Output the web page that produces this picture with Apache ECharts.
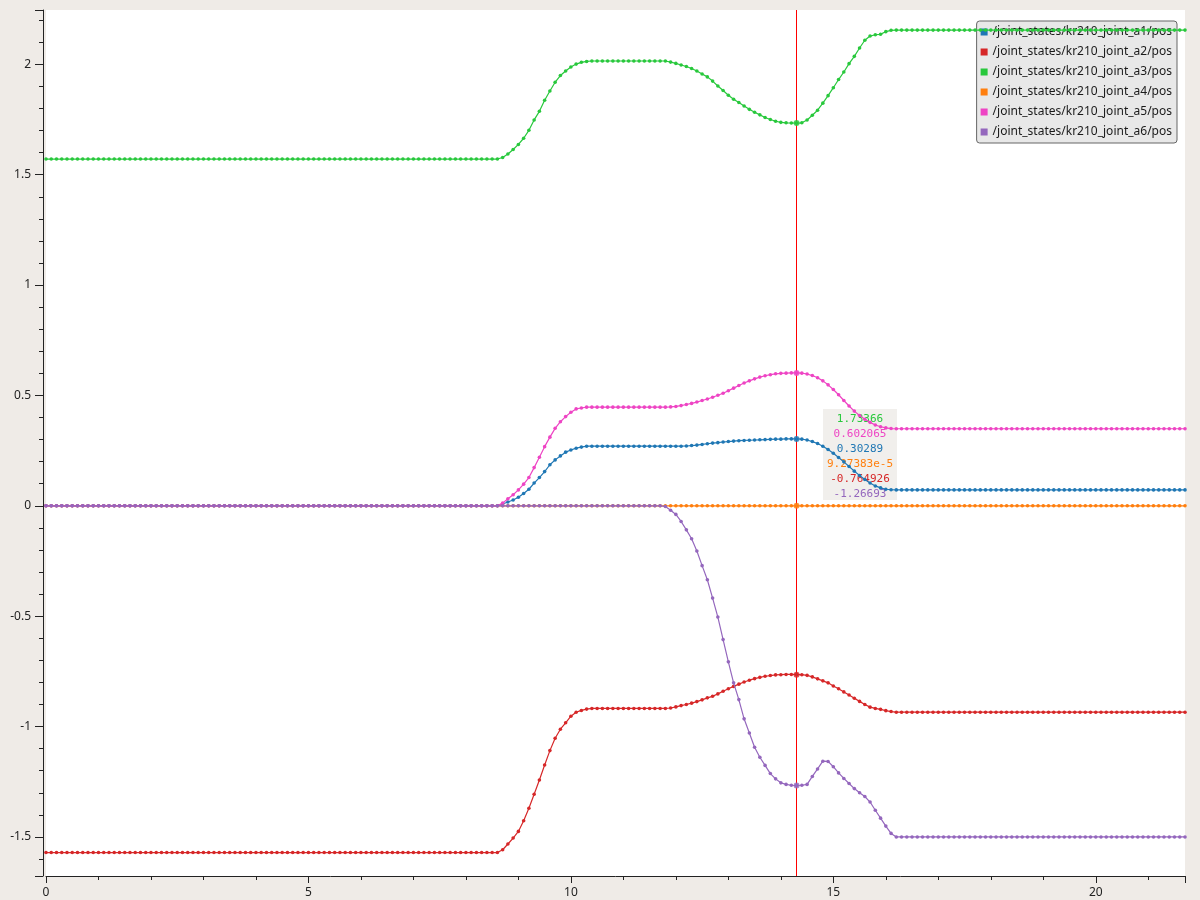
<!DOCTYPE html>
<html>
<head>
<meta charset="utf-8">
<script src="https://cdn.jsdelivr.net/npm/echarts@6/dist/echarts.min.js"></script>
<style>
html,body{margin:0;padding:0;background:#efebe7;}
#chart{width:1200px;height:900px;}
</style>
</head>
<body>
<div id="chart"></div>
<script>
// Sampling: 10 Hz from t = 0 s
const T_START = 0;
const T_STEP = 0.1;

// Series values (one sample per 0.1 s). [value, n] = n identical samples in a row.
const names = [
  '/joint_states/kr210_joint_a1/pos',
  '/joint_states/kr210_joint_a2/pos',
  '/joint_states/kr210_joint_a3/pos',
  '/joint_states/kr210_joint_a4/pos',
  '/joint_states/kr210_joint_a5/pos',
  '/joint_states/kr210_joint_a6/pos'
];
const colors = ['#1f77b4', '#d62728', '#28c83c', '#ff7f0e', '#ee44c4', '#9467bd'];

const a1 = [[0, 87],
  0.008, 0.017, 0.026, 0.039, 0.056, 0.075, 0.103, 0.128, 0.155, 0.186, 0.208, 0.226, 0.243, 0.253, 0.261, 0.266,
  [0.270, 19],
  0.271, 0.273, 0.275, 0.278, 0.281, 0.284, 0.286, 0.289, 0.291, 0.293,
  0.295, 0.296, 0.297, 0.298, 0.299, 0.300, 0.301, 0.302, 0.302, 0.303,
  0.303, 0.30289, 0.302, 0.298, 0.291, 0.282, 0.270, 0.255, 0.238, 0.219,
  0.199, 0.178, 0.157, 0.137, 0.119, 0.103, 0.090, 0.081, 0.075, 0.073,
  [0.072, 56]];

const a2 = [[-1.5708, 87],
  -1.558, -1.532, -1.505, -1.475, -1.427, -1.370, -1.307, -1.242, -1.174, -1.109, -1.053, -1.012, -0.983, -0.953, -0.935, -0.927, -0.921,
  [-0.918, 15],
  -0.916, -0.911, -0.905, -0.900, -0.894, -0.887, -0.879, -0.870, -0.863, -0.852,
  -0.840, -0.829, -0.818, -0.808, -0.798, -0.790, -0.783, -0.777, -0.772, -0.769,
  -0.766, -0.765, -0.764, -0.764, -0.764926, -0.765, -0.768, -0.775, -0.784, -0.793,
  -0.802, -0.816, -0.829, -0.843, -0.857, -0.872, -0.886, -0.900, -0.912, -0.918,
  -0.922, -0.928, -0.932,
  [-0.935, 56]];

const a3 = [[1.5708, 87],
  1.578, 1.594, 1.614, 1.637, 1.665, 1.701, 1.748, 1.787, 1.837, 1.879, 1.919, 1.949, 1.970, 1.988, 2.001, 2.009, 2.013,
  [2.015, 15],
  2.010, 2.004, 1.997, 1.990, 1.981, 1.970, 1.956, 1.943, 1.924, 1.902,
  1.881, 1.860, 1.842, 1.827, 1.811, 1.796, 1.783, 1.771, 1.759, 1.750,
  1.742, 1.737, 1.735, 1.734, 1.73366, 1.735, 1.748, 1.769, 1.792, 1.824,
  1.858, 1.894, 1.931, 1.965, 2.003, 2.036, 2.074, 2.109, 2.128, 2.134,
  2.136, 2.148, 2.154,
  [2.155, 56]];

const a4 = [[0.0000927383, 218]];

const a5 = [[0, 87],
  0.012, 0.032, 0.050, 0.072, 0.098, 0.128, 0.173, 0.220, 0.268, 0.311, 0.351, 0.381, 0.404, 0.424, 0.439, 0.443,
  [0.447, 16],
  0.448, 0.450, 0.454, 0.459, 0.464, 0.470, 0.477, 0.484, 0.492, 0.501,
  0.510, 0.521, 0.533, 0.545, 0.556, 0.566, 0.575, 0.583, 0.589, 0.594,
  0.598, 0.600, 0.601, 0.602, 0.602065, 0.601, 0.597, 0.590, 0.580, 0.566,
  0.548, 0.527, 0.503, 0.477, 0.452, 0.429, 0.409, 0.392, 0.378, 0.366,
  0.358, 0.353, 0.350,
  [0.349, 56]];

const a6 = [[0, 118],
  -0.003, -0.020, -0.039, -0.071, -0.109, -0.149, -0.205, -0.271, -0.335, -0.418,
  -0.504, -0.606, -0.707, -0.802, -0.878, -0.965, -1.029, -1.094, -1.139, -1.176,
  -1.213, -1.237, -1.255, -1.262, -1.266, -1.26693, -1.266, -1.262, -1.226, -1.192,
  -1.157, -1.158, -1.182, -1.210, -1.235, -1.258, -1.281, -1.300, -1.317, -1.342,
  -1.379, -1.415, -1.451, -1.484,
  [-1.5, 56]];

// cursor time
const cursorT = 14.3;

// axis ranges / ticks
const xMin = 0, xMax = 21.7, xMajor = 5;
const yMin = -1.677, yMax = 2.246;

function expand(spec) {
  const out = [];
  for (const s of spec) {
    if (Array.isArray(s)) { for (let k = 0; k < s[1]; k++) out.push(s[0]); }
    else out.push(s);
  }
  return out;
}
const raw = [a1, a2, a3, a4, a5, a6].map(expand);
function tAt(i) { return Math.round((T_START + i * T_STEP) * 1000) / 1000; }
const seriesData = raw.map(arr => arr.map((v, i) => [tAt(i), v]));
const cursorIdx = Math.round((cursorT - T_START) / T_STEP);

function fmt(v) {
  if (v !== 0 && Math.abs(v) < 1e-4) return v.toExponential(5);
  return String(parseFloat(v.toPrecision(6)));
}

const chart = echarts.init(document.getElementById('chart'), null, {renderer: 'canvas'});

const series = names.map((n, k) => ({
  name: n,
  type: 'line',
  data: seriesData[k],
  showSymbol: true,
  symbol: 'circle',
  symbolSize: 3.6,
  color: colors[k],
  lineStyle: {width: 1.2, color: colors[k]},
  itemStyle: {color: colors[k]},
  animation: false,
  silent: true,
  z: 2 + k,
  markLine: k === 5 ? {
    silent: true, symbol: ['none', 'none'], label: {show: false},
    lineStyle: {color: '#ff0000', width: 1, type: 'solid', opacity: 1},
    data: [{xAxis: cursorT, lineStyle: {color: '#ff0000', width: 1}}], animation: false, z: 1
  } : undefined
}));
// highlighted points at the cursor
series.push({
  type: 'scatter', name: 'cursor', silent: true, animation: false, z: 10,
  symbolSize: 6,
  data: raw.map((arr, k) => ({value: [tAt(cursorIdx), arr[cursorIdx]], itemStyle: {color: colors[k]}}))
});

// tooltip box text, sorted by value descending
const rows = raw.map((arr, k) => ({v: arr[cursorIdx], c: colors[k]})).sort((a, b) => b.v - a.v);
const rich = {};
rows.forEach((r, i) => { rich['s' + i] = {fill: r.c, fontFamily: 'DejaVu Sans Mono', fontSize: 11, lineHeight: 15}; });
const boxText = rows.map((r, i) => '{s' + i + '|' + fmt(r.v) + '}').join('\n');

chart.setOption({
  backgroundColor: '#efebe7',
  animation: false,
  textStyle: {fontFamily: 'Noto Sans'},
  grid: {left: 46, right: 15, top: 10, bottom: 24, show: true, backgroundColor: '#ffffff', borderWidth: 0},
  legend: {
    data: names,
    orient: 'vertical',
    right: 23, top: 21,
    padding: [5, 5, 5, 4],
    itemGap: 8,
    itemWidth: 7, itemHeight: 7,
    icon: 'rect',
    backgroundColor: '#e8e8e8',
    borderColor: '#666666', borderWidth: 1, borderRadius: 3,
    textStyle: {fontFamily: 'Noto Sans', fontSize: 12, color: '#1a1a1a', lineHeight: 12},
    selectedMode: false
  },
  xAxis: {
    type: 'value', min: xMin, max: xMax, interval: xMajor,
    axisLine: {show: true, onZero: false, lineStyle: {color: '#222', width: 1}},
    axisTick: {show: true, length: 7, lineStyle: {color: '#222'}},
    minorTick: {show: true, splitNumber: 5, length: 4, lineStyle: {color: '#222'}},
    axisLabel: {color: '#222', fontSize: 12, margin: 11, showMaxLabel: false},
    splitLine: {show: false}
  },
  yAxis: {
    type: 'value', min: yMin, max: yMax, splitNumber: 8,
    offset: 3,
    axisLine: {show: true, onZero: false, lineStyle: {color: '#222', width: 1}},
    axisTick: {show: true, length: 8, lineStyle: {color: '#222'}},
    minorTick: {show: true, splitNumber: 5, length: 4, lineStyle: {color: '#222'}},
    axisLabel: {color: '#222', fontSize: 12, margin: 12, showMinLabel: false, showMaxLabel: false},
    splitLine: {show: false}
  },
  graphic: [{
    type: 'group', z: 100,
    children: [
      {type: 'rect', shape: {x: 823, y: 409, width: 74, height: 91}, style: {fill: 'rgba(239,236,233,0.85)'}},
      {type: 'text', x: 860, y: 412, style: {text: boxText, rich: rich, align: 'center', verticalAlign: 'top', fontFamily: 'DejaVu Sans Mono', fontSize: 11, lineHeight: 15}}
    ]
  }],
  series: series
});
</script>
</body>
</html>
